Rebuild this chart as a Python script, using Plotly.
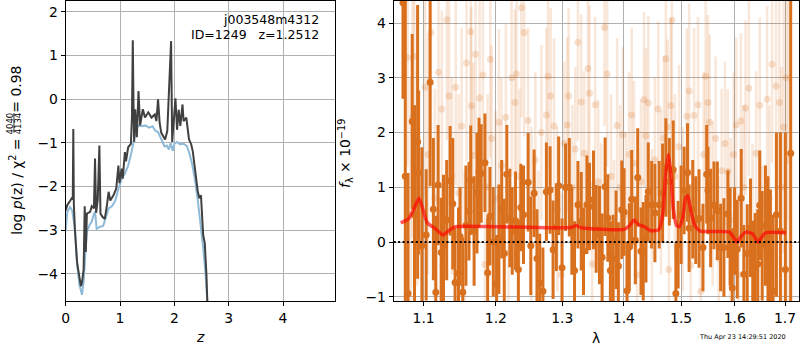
import plotly.graph_objects as go

# ---------------- left panel: log p(z) ----------------
z_pz = [0.00, 0.03, 0.08, 0.12, 0.13, 0.14, 0.15, 0.17, 0.21, 0.25, 0.28, 0.30, 0.33, 0.35, 0.37,
        0.39, 0.45, 0.48, 0.52, 0.54, 0.56, 0.59, 0.62, 0.64, 0.68, 0.72, 0.74, 0.76, 0.79, 0.82,
        0.88, 0.93, 0.97, 0.99, 1.03, 1.05, 1.09, 1.11, 1.15, 1.20, 1.22, 1.235, 1.25, 1.26, 1.28,
        1.31, 1.34, 1.37, 1.42, 1.46, 1.52, 1.58, 1.64, 1.67, 1.70, 1.73, 1.76, 1.83, 1.87, 1.90,
        1.94, 1.96, 1.99, 2.02, 2.05, 2.08, 2.11, 2.15, 2.17, 2.22, 2.27, 2.31, 2.34, 2.37, 2.43,
        2.46, 2.49, 2.53, 2.56, 2.59, 2.61, 2.63]
logpz = [-2.55, -2.42, -2.33, -2.25, -2.30, -0.68, -2.40, -3.00, -3.75, -4.10, -4.28, -4.20, -3.90, -2.45, -3.50,
         -2.62, -2.58, -2.45, -2.50, -1.36, -2.60, -2.30, -1.06, -2.62, -2.70, -2.74, -2.60, -2.42, -2.12, -2.32,
         -2.20, -2.05, -1.52, -1.92, -1.59, -1.82, -1.21, -1.42, -1.10, -1.02, -0.40, 1.35, -0.30, -0.98, -0.23,
         -0.87, 0.19, -0.60, -0.23, -0.42, -0.30, -0.42, -0.35, -0.50, 0.00, -0.55, -0.77, -0.92, -0.73, 0.08,
         1.33, -0.98, -0.38, 0.02, -0.70, -0.24, -0.61, -0.12, -0.50, -0.42, -0.92, -1.03, -1.20, -1.55, -2.10,
         -2.27, -2.20, -3.10, -3.30, -4.00, -4.70, -5.50]

z_chi = [0.00, 0.03, 0.08, 0.12, 0.17, 0.21, 0.25, 0.28, 0.30, 0.33, 0.36, 0.39, 0.44, 0.48, 0.52,
         0.54, 0.57, 0.63, 0.69, 0.74, 0.79, 0.85, 0.91, 0.97, 1.03, 1.09, 1.15, 1.21, 1.27, 1.33,
         1.40, 1.47, 1.53, 1.60, 1.65, 1.70, 1.76, 1.82, 1.86, 1.90, 1.93, 1.97, 2.00, 2.05, 2.10,
         2.17, 2.23, 2.28, 2.33, 2.38, 2.43, 2.48, 2.53, 2.58, 2.62, 2.65]
logchi = [-3.00, -2.58, -2.47, -2.55, -2.97, -3.75, -4.24, -4.36, -4.48, -4.17, -3.50, -3.03, -2.88, -2.80, -2.62,
          -2.58, -2.97, -2.92, -2.90, -2.67, -2.50, -2.45, -2.33, -2.06, -1.82, -1.70, -1.52, -1.22, -0.85, -0.60,
          -0.62, -0.60, -0.65, -0.62, -0.72, -0.75, -0.92, -1.08, -1.06, -1.15, -1.00, -1.18, -1.02, -0.98, -1.03,
          -1.02, -1.07, -1.25, -1.50, -1.85, -2.30, -2.80, -3.40, -4.10, -4.70, -5.50]

# ---------------- right panel: spectrum ----------------
wave_a = [1.0730, 1.0760, 1.0795, 1.0850, 1.0880, 1.0921, 1.0934, 1.0977, 1.1034, 1.1087, 1.1130, 1.1163,
          1.1194, 1.1235, 1.1267, 1.1310, 1.1357, 1.1393, 1.1425, 1.1472, 1.1494, 1.1531, 1.1575, 1.1618,
          1.1642, 1.1690, 1.1730, 1.1759, 1.1790, 1.1843, 1.1882, 1.1915, 1.1963, 1.2011, 1.2044, 1.2085,
          1.2122, 1.2160, 1.2204, 1.2239, 1.2288, 1.2330, 1.2366, 1.2406, 1.2476, 1.2515, 1.2566, 1.2609,
          1.2651, 1.2700, 1.2753, 1.2810, 1.2856, 1.2907, 1.2943, 1.2996, 1.3051, 1.3110, 1.3150, 1.3193,
          1.3247, 1.3300, 1.3336, 1.3391, 1.3433, 1.3497, 1.3541, 1.3595, 1.3639, 1.3688, 1.3732, 1.3775,
          1.3820, 1.3870, 1.3908, 1.3965, 1.4004, 1.4054, 1.4093, 1.4133, 1.4195, 1.4236, 1.4292, 1.4331,
          1.4378, 1.4418, 1.4477, 1.4534, 1.4609, 1.4669, 1.4727, 1.4789, 1.4857, 1.4905, 1.4946, 1.5000,
          1.5054, 1.5116, 1.5145, 1.5211, 1.5266, 1.5327, 1.5400, 1.5469, 1.5493, 1.5543, 1.5605, 1.5669,
          1.5731, 1.5793, 1.5869, 1.5911, 1.5953, 1.5997, 1.6049, 1.6126, 1.6177, 1.6243, 1.6307, 1.6352,
          1.6399, 1.6451, 1.6490, 1.6538, 1.6603, 1.6653, 1.6703, 1.6757, 1.6824, 1.6905, 1.7007, 1.7116]
flux_a = [4.37, 1.20, -0.94, 2.20, 0.50, 1.83, 1.27, -0.07, 0.13, 2.92, 0.60, -0.92,
          1.04, -0.19, -0.07, 0.40, 1.12, 0.70, -0.74, -0.57, 0.10, -0.92, 0.30, 0.56,
          1.13, 0.20, 0.89, 1.27, 1.25, 1.45, -0.56, 0.47, 0.00, -0.77, 0.05, 0.60,
          -0.21, 1.24, 0.44, 0.20, 0.39, -0.50, 0.63, 0.50, 1.09, -0.07, 0.89, -0.30,
          -0.75, -0.90, 0.92, 0.95, -0.14, 0.27, 1.03, -0.47, 1.00, 1.00, 0.20, -0.52,
          0.68, 0.38, -0.17, 0.68, 0.65, 0.77, 0.24, 0.13, -0.28, 1.01, 0.44, -0.52,
          -0.30, 0.04, -0.44, 0.59, 0.55, -0.89, -0.09, 0.78, 0.03, 1.18, -0.17, -0.17,
          0.06, 0.92, 0.68, 0.53, 0.68, 0.90, 1.36, 1.10, 1.32, -0.94, -0.05, 0.50,
          0.94, 1.27, 0.25, 0.60, 0.40, 0.43, -0.10, 1.24, 0.94, 0.44, 0.67, 0.57,
          -0.10, -0.10, 0.51, 0.10, -0.84, 0.20, -0.13, 0.80, -0.59, -0.21, 0.26, -0.51,
          -0.47, -0.40, 0.67, -0.07, 0.30, 0.00, -0.24, -0.90, 0.50, 0.20, -0.50, 1.62]
err_a = [1.75, 3.50, 2.20, 1.60, 2.00, 2.50, 1.50, 1.80, 1.20, 1.90, 1.30, 1.40,
         1.10, 1.00, 1.30, 1.10, 1.00, 1.20, 1.00, 1.20, 0.90, 1.00, 1.10, 0.90,
         1.00, 1.00, 1.10, 1.00, 0.90, 0.90, 1.00, 0.90, 1.00, 0.90, 1.00, 0.90,
         1.00, 0.90, 0.90, 0.80, 0.90, 0.90, 0.80, 0.90, 0.90, 0.90, 0.80, 0.90,
         0.90, 0.80, 0.90, 0.80, 0.90, 0.80, 0.90, 0.90, 0.80, 0.90, 0.80, 0.90,
         0.80, 0.90, 0.80, 0.90, 0.80, 0.90, 0.80, 0.90, 0.80, 0.90, 0.80, 0.90,
         0.80, 0.90, 0.80, 0.90, 0.80, 0.90, 0.80, 0.90, 0.80, 0.90, 0.80, 0.90,
         0.80, 0.90, 0.80, 0.90, 0.80, 0.90, 0.90, 0.80, 0.90, 0.90, 0.80, 0.90,
         0.80, 0.90, 0.80, 0.90, 0.80, 0.90, 0.80, 0.90, 0.80, 0.90, 0.80, 0.90,
         0.80, 0.90, 0.80, 0.90, 0.90, 0.80, 0.90, 0.90, 0.90, 0.90, 0.90, 0.90,
         1.00, 1.00, 1.00, 1.00, 1.10, 1.20, 1.20, 1.40, 1.50, 1.80, 2.50, 4.00]

wave_b = [1.0789, 1.0829, 1.0855, 1.0877, 1.0912, 1.1018, 1.1058, 1.1097, 1.1150, 1.1199, 1.1244, 1.1257,
          1.1312, 1.1343, 1.1380, 1.1434, 1.1474, 1.1515, 1.1556, 1.1583, 1.1642, 1.1651, 1.1679, 1.1710,
          1.1768, 1.1815, 1.1843, 1.1880, 1.1920, 1.1938, 1.1996, 1.2044, 1.2082, 1.2145, 1.2184, 1.2229,
          1.2278, 1.2303, 1.2346, 1.2376, 1.2416, 1.2476, 1.2525, 1.2584, 1.2632, 1.2676, 1.2753, 1.2779,
          1.2819, 1.2871, 1.2922, 1.2985, 1.3032, 1.3079, 1.3099, 1.3158, 1.3205, 1.3247, 1.3300, 1.3347,
          1.3408, 1.3433, 1.3476, 1.3524, 1.3574, 1.3622, 1.3677, 1.3721, 1.3786, 1.3836, 1.3887, 1.3937,
          1.3983, 1.4037, 1.4088, 1.4133, 1.4173, 1.4224, 1.4292, 1.4343, 1.4378, 1.4418, 1.4482, 1.4534,
          1.4592, 1.4640, 1.4692, 1.4727, 1.4757, 1.4780, 1.4815, 1.4833, 1.4887, 1.4964, 1.5031, 1.5103,
          1.5145, 1.5175, 1.5236, 1.5309, 1.5358, 1.5413, 1.5450, 1.5493, 1.5524, 1.5580, 1.5636, 1.5693,
          1.5750, 1.5812, 1.5869, 1.5921, 1.5978, 1.6030, 1.6075, 1.6119, 1.6171, 1.6210, 1.6275, 1.6347,
          1.6419, 1.6490, 1.6544, 1.6637, 1.6683, 1.6737, 1.6817, 1.6884, 1.6925, 1.6972, 1.7027, 1.7069]
flux_b = [3.37, 0.50, 2.28, 3.39, 1.20, 2.83, 1.60, 3.83, 0.80, 3.10, 2.43, -0.41,
          4.06, 2.67, 1.20, 2.83, 0.90, 2.12, -0.30, 3.27, 3.84, 2.49, 1.58, 3.43,
          2.63, 3.05, -0.41, 1.00, 3.34, 1.89, 0.80, 2.19, 1.40, 2.28, -0.20, 3.00,
          2.55, 3.07, 1.20, 4.28, 3.83, 2.22, 0.50, 1.50, -0.20, 2.00, 2.32, 3.03,
          2.67, 2.12, 0.60, -0.60, 1.80, 2.14, 2.67, 1.00, 1.70, 3.65, 2.56, 1.62,
          3.17, 2.72, -0.40, 2.51, 1.10, 0.30, 3.92, 3.07, 1.20, 0.00, 2.13, 1.00,
          1.96, 0.50, 1.60, 2.32, 1.44, -0.60, 1.10, 2.60, 1.94, 2.54, 0.20, 1.50,
          2.43, 0.90, 1.90, 3.35, 2.10, -0.50, 2.49, 4.05, 1.20, 1.74, 0.60, 2.30,
          2.76, -0.43, 2.31, 2.51, -0.90, 1.60, 3.03, 2.55, 2.19, 0.70, 1.89, -0.30,
          1.30, 1.80, 1.29, 0.40, 1.60, 2.14, -0.60, 2.21, 1.00, 2.45, 2.81, 0.30,
          1.62, 2.50, -0.20, 2.61, 0.80, 3.25, 2.85, 2.55, 1.00, 2.10, 3.00, 1.50]
err_b = [2.0, 2.5, 2.2, 2.0, 2.0, 2.0, 2.2, 2.2, 2.0, 2.0, 1.8, 1.6,
         2.2, 2.0, 1.8, 1.8, 1.8, 1.8, 1.6, 1.8, 2.0, 1.8, 1.7, 1.8,
         1.8, 1.8, 1.6, 1.7, 1.8, 1.7, 1.6, 1.7, 1.6, 1.7, 1.5, 1.8,
         1.7, 1.8, 1.6, 2.0, 1.9, 1.7, 1.6, 1.6, 1.5, 1.6, 1.6, 1.7,
         1.6, 1.6, 1.5, 1.5, 1.5, 1.6, 1.6, 1.5, 1.5, 1.8, 1.6, 1.5,
         1.7, 1.6, 1.5, 1.6, 1.5, 1.5, 1.8, 1.7, 1.5, 1.5, 1.6, 1.5,
         1.6, 1.5, 1.5, 1.6, 1.5, 1.5, 1.5, 1.6, 1.6, 1.6, 1.5, 1.5,
         1.6, 1.5, 1.5, 1.7, 1.6, 1.5, 1.6, 1.9, 1.5, 1.5, 1.5, 1.6,
         1.6, 1.5, 1.6, 1.6, 1.5, 1.5, 1.7, 1.6, 1.6, 1.5, 1.5, 1.5,
         1.5, 1.5, 1.5, 1.5, 1.5, 1.6, 1.5, 1.6, 1.5, 1.6, 1.6, 1.5,
         1.5, 1.6, 1.6, 1.7, 1.7, 1.8, 1.9, 2.0, 2.2, 2.3, 2.6, 3.0]

wave_model = [1.070, 1.080, 1.087, 1.094, 1.100, 1.105, 1.115, 1.126, 1.135, 1.143, 1.160, 1.200,
              1.250, 1.300, 1.315, 1.322, 1.330, 1.350, 1.400, 1.410, 1.417, 1.425, 1.435, 1.445,
              1.460, 1.467, 1.472, 1.477, 1.481, 1.486, 1.492, 1.497, 1.503, 1.508, 1.512, 1.518,
              1.525, 1.535, 1.560, 1.590, 1.598, 1.605, 1.612, 1.622, 1.635, 1.643, 1.647, 1.652,
              1.662, 1.702]
flux_model = [0.35, 0.42, 0.60, 0.80, 0.55, 0.35, 0.25, 0.13, 0.22, 0.28, 0.29, 0.28,
              0.27, 0.26, 0.27, 0.30, 0.26, 0.24, 0.23, 0.30, 0.40, 0.32, 0.28, 0.21,
              0.22, 0.50, 1.20, 1.60, 1.30, 0.60, 0.30, 0.28, 0.45, 0.80, 0.85, 0.55,
              0.30, 0.20, 0.19, 0.18, 0.08, 0.00, 0.10, 0.18, 0.15, 0.03, 0.00, 0.08,
              0.17, 0.17]

xticks_right = [1.1, 1.2, 1.3, 1.4, 1.5, 1.6, 1.7]
xtext_right = ["1.1", "1.2", "1.3", "1.4", "1.5", "1.6", "1.7"]

W, H = 800, 350
FONT = "DejaVu Sans"
ORANGE = "rgb(217,112,30)"
LIGHT = "rgba(213,94,0,0.15)"


def px(x):
    return x / W


def py(y):
    return 1 - y / H


fig = go.Figure()

fig.add_trace(go.Scatter(x=z_chi, y=logchi, mode="lines", xaxis="x", yaxis="y",
                         line=dict(color="#8fbbd9", width=2)))
fig.add_trace(go.Scatter(x=z_pz, y=logpz, mode="lines", xaxis="x", yaxis="y",
                         line=dict(color="#404040", width=2)))

fig.add_trace(go.Scatter(x=wave_b, y=flux_b, mode="markers", xaxis="x2", yaxis="y2",
                         marker=dict(color="rgba(213,94,0,0.18)", size=7),
                         error_y=dict(type="data", array=err_b, color=LIGHT, thickness=2.6, width=0)))
fig.add_trace(go.Scatter(x=wave_a, y=flux_a, mode="markers", xaxis="x2", yaxis="y2",
                         marker=dict(color=ORANGE, size=7),
                         error_y=dict(type="data", array=err_a, color=ORANGE, thickness=3, width=0)))
fig.add_trace(go.Scatter(x=wave_model, y=flux_model, mode="lines", xaxis="x2", yaxis="y2",
                         line=dict(color="rgba(255,0,0,0.65)", width=3.5, shape="spline", smoothing=0.6)))

axis_common = dict(showline=True, mirror=True, linecolor="black", linewidth=1,
                   ticks="outside", ticklen=4, tickcolor="black", tickwidth=1,
                   showgrid=True, gridcolor="#b0b0b0", gridwidth=1, zeroline=False,
                   tickfont=dict(family=FONT, size=13.9, color="black"))

ydom = [1 - 304 / H, 1 - 1 / H]
fig.update_layout(
    width=W, height=H, autosize=False,
    margin=dict(l=0, r=0, t=0, b=0),
    paper_bgcolor="white", plot_bgcolor="white",
    showlegend=False,
    font=dict(family=FONT, color="black"),
    xaxis=dict(domain=[62 / W, 333 / W], range=[0, 4.963], tickvals=[0, 1, 2, 3, 4],
               anchor="y", **axis_common),
    yaxis=dict(domain=ydom, range=[-4.63, 2.25], tickvals=[-4, -3, -2, -1, 0, 1, 2],
               ticktext=["\u22124", "\u22123", "\u22122", "\u22121", "0", "1", "2"],
               anchor="x", **axis_common),
    xaxis2=dict(domain=[391.7 / W, 799.3 / W], type="log", range=[0.02577, 0.2379],
                tickvals=xticks_right, ticktext=xtext_right, anchor="y2", **axis_common),
    yaxis2=dict(domain=ydom, range=[-1.085, 4.404], tickvals=[-1, 0, 1, 2, 3, 4],
                ticktext=["\u22121", "0", "1", "2", "3", "4"], anchor="x2", **axis_common),
)

fig.add_shape(type="line", xref="x2 domain", yref="y2", x0=0, x1=1, y0=0, y1=0,
              line=dict(color="black", width=2, dash="2px,2.4px"))

ann = []
# left y label (stacked fraction assembled from pieces)
ann.append(dict(text="log <i>p</i>(z) / \u03c7<sup>2</sup> =", x=px(12.5), y=py(188), textangle=-90,
                font=dict(size=13.9)))
ann.append(dict(text="= 0.98", x=px(12.5), y=py(90), textangle=-90, font=dict(size=13.9)))
ann.append(dict(text="4040", x=px(5.5), y=py(124), textangle=-90, font=dict(size=8.5)))
ann.append(dict(text="4134", x=px(14.5), y=py(124), textangle=-90, font=dict(size=8.5)))
fig.add_shape(type="line", xref="paper", yref="paper", x0=px(10), x1=px(10), y0=py(114), y1=py(134),
              line=dict(color="black", width=0.8))
# right y label
ann.append(dict(text="<i>f</i><sub>\u03bb</sub> \u00d7 10<sup>\u221219</sup>", x=px(343), y=py(155),
                textangle=-90, font=dict(size=13.9)))
# x labels
ann.append(dict(text="<i>z</i>", x=px(197), y=py(340), font=dict(size=13.9)))
ann.append(dict(text="\u03bb", x=px(595), y=py(341), font=dict(size=13.9)))
# corner text
ann.append(dict(text="j003548m4312", x=px(319), y=py(20), xanchor="right", font=dict(size=12.5)))
ann.append(dict(text="ID=1249   z=1.2512", x=px(319), y=py(34.5), xanchor="right", font=dict(size=12.5)))
# timestamp
ann.append(dict(text="Thu Apr 23 14:29:51 2020", x=px(788), y=py(340), xanchor="right",
                font=dict(size=6.5)))

for a in ann:
    a.setdefault("xanchor", "center")
    a.setdefault("yanchor", "middle")
    a["font"] = dict(family=FONT, color="black", **a["font"])
    fig.add_annotation(xref="paper", yref="paper", showarrow=False, **a)

fig.write_html("out.html", config={"displayModeBar": False},
               post_script="document.body.style.margin='0';document.body.style.padding='0';")
